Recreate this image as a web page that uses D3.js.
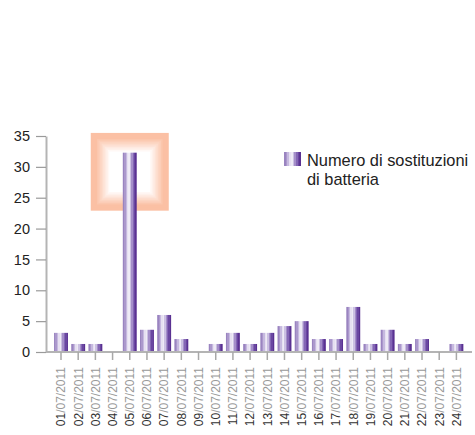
<!DOCTYPE html>
<meta charset="utf-8">
<style>
  body { margin: 0; background: #fff; }
  svg { font-family: "Liberation Sans", Arial, sans-serif; }
</style>
<script src="https://d3js.org/d3.v7.min.js"></script>
<body>
<script>

var days = ["01","02","03","04","05","06","07","08","09","10","11","12",
            "13","14","15","16","17","18","19","20","21","22","23","24"];
var suffix = "/07/2011";
var values = [3.1, 1.3, 1.3, 0, 32.3, 3.6, 6, 2.1, 0, 1.3, 3.1, 1.3,
              3.1, 4.2, 5, 2.1, 2.1, 7.3, 1.3, 3.6, 1.3, 2.1, 0, 1.3];
var yTicks = [0, 5, 10, 15, 20, 25, 30, 35];
var legendLines = ["Numero di sostituzioni", "di batteria"];
var highlightDay = "05";

var width = 475, height = 435;

var svg = d3.select("body").append("svg")
    .attr("width", width)
    .attr("height", height);

// stripy purple gradient of the bars
var defs = svg.append("defs");
var stripes = ["#9a84c0", "#ab98cc", "#c6b9df", "#e6e0f1", "#eeeaf6", "#cbc0e2",
               "#a48ec9", "#8466b5", "#6a47a1", "#5a3192"];
var grad = defs.append("linearGradient").attr("id", "barGrad")
    .attr("x1", "0%").attr("x2", "100%").attr("y1", "0%").attr("y2", "0%");
stripes.forEach(function(c, i) {
  grad.append("stop").attr("offset", (i / stripes.length * 100) + "%").attr("stop-color", c);
  grad.append("stop").attr("offset", ((i + 1) / stripes.length * 100) + "%").attr("stop-color", c);
});

var x = d3.scaleBand()
    .domain(days)
    .range([52.4, 465])
    .paddingInner(0.19)
    .paddingOuter(0.095);

var y = d3.scaleLinear()
    .domain([0, 35])
    .range([352, 136]);

// highlight box behind the tallest bar
var hx = x(highlightDay) + x.bandwidth() / 2;
var hTop = y(35.5), hBot = y(22.9), half = 39;
var fade = d3.interpolateRgb("#fbc0a4", "#ffffff");
var steps = 14;
for (var i = 0; i < steps; i++) {
  var inset = i * 1.55;
  var t = i < 3 ? 0 : Math.min(1, (i - 3) / (steps - 5));
  svg.append("rect")
      .attr("x", hx - half + inset)
      .attr("y", hTop + inset)
      .attr("width", half * 2 - inset * 2)
      .attr("height", (hBot - hTop) - inset * 2)
      .attr("fill", fade(t));
}

// y axis
var yAxis = svg.append("g")
    .attr("transform", "translate(46,0)")
    .call(d3.axisLeft(y).tickValues(yTicks).tickSize(10).tickSizeOuter(0).tickPadding(6));
yAxis.select(".domain").attr("stroke", "#b4b4b4").attr("stroke-width", 2);
yAxis.selectAll(".tick line").attr("stroke", "#9a9a9a").attr("stroke-width", 1.2);
yAxis.selectAll(".tick text").attr("fill", "#222").style("font-size", "14.5px");

// bars
svg.selectAll(".bar")
    .data(values)
    .enter().append("rect")
    .attr("class", "bar")
    .attr("x", function(d, i) { return x(days[i]); })
    .attr("y", function(d) { return y(d); })
    .attr("width", x.bandwidth())
    .attr("height", function(d) { return y(0) - y(d); })
    .attr("fill", "url(#barGrad)");

// x axis
var xAxis = svg.append("g")
    .attr("transform", "translate(0,352)")
    .call(d3.axisBottom(x).tickSize(8).tickSizeOuter(0));
xAxis.select(".domain").attr("d", "M46,0H472").attr("stroke", "#b4b4b4").attr("stroke-width", 2);
xAxis.selectAll(".tick line").attr("stroke", "#a8a8a8").attr("stroke-width", 1.5);
xAxis.selectAll(".tick text").remove();
xAxis.selectAll(".tick").append("text")
    .attr("transform", "rotate(-90)")
    .attr("x", -15)
    .attr("y", 0)
    .attr("dy", "0.36em")
    .attr("text-anchor", "end")
    .style("font-size", "12px")
    .each(function(d) {
      var t = d3.select(this);
      t.append("tspan").attr("fill", "#333").text(d);
      t.append("tspan").attr("fill", "#999").text(suffix);
    });

// legend
var legend = svg.append("g");
legend.append("rect")
    .attr("x", 284).attr("y", 152)
    .attr("width", 17).attr("height", 14)
    .attr("fill", "url(#barGrad)");
legend.selectAll("text")
    .data(legendLines)
    .enter().append("text")
    .attr("x", 307)
    .attr("y", function(d, i) { return 166 + i * 19; })
    .attr("fill", "#222")
    .style("font-size", "16.4px")
    .text(function(d) { return d; });

</script>
</body>
